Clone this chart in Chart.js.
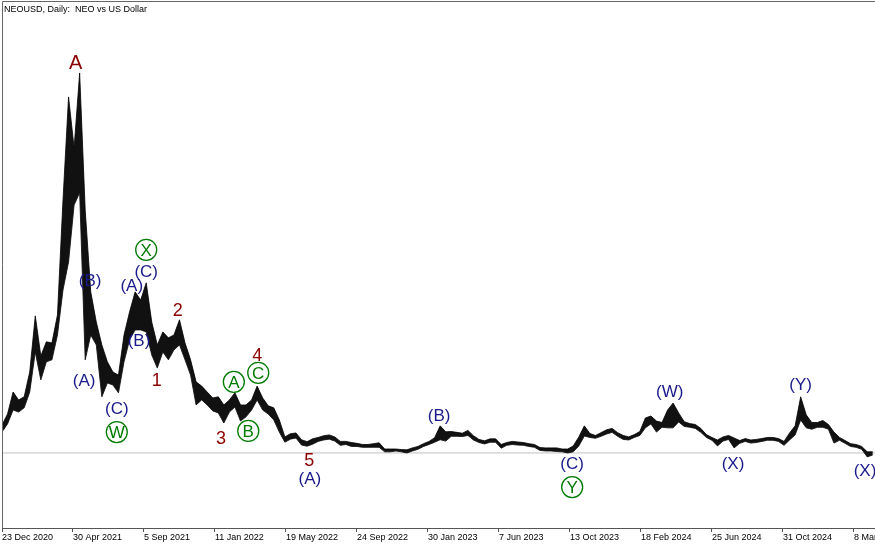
<!DOCTYPE html>
<html>
<head>
<meta charset="utf-8">
<title>NEOUSD Daily</title>
<script src="https://cdn.jsdelivr.net/npm/chart.js@4.4.1/dist/chart.umd.min.js"></script>
<style>
  html, body { margin: 0; padding: 0; background: #fff; }
  #wrap { width: 875px; height: 545px; position: relative; }
</style>
</head>
<body>
<div id="wrap"><canvas id="neoChart"></canvas></div>
<script>
// NEO vs US Dollar, daily chart.
// One high/low pair every 10 days, starting 23 Dec 2020.
const STEP_DAYS = 10;
const titleText = 'NEOUSD, Daily:  NEO vs US Dollar';

const highs = [
  16.2, 20.1, 27.9, 25.1, 26.2, 35.0, 54.9, 40.7, 45.7, 45.3,
  55.2, 96.0, 132.5, 114.4, 141.0, 92.4, 63.4, 52.7, 44.6, 38.6,
  35.0, 33.9, 48.1, 56.3, 63.4, 60.5, 66.6, 52.7, 44.6, 49.2,
  47.1, 48.1, 53.5, 45.3, 39.3, 31.5, 30.0, 27.9, 25.8, 26.2,
  23.3, 25.1, 27.6, 23.3, 23.3, 25.1, 30.0, 25.8, 23.0, 22.3,
  18.0, 12.0, 13.1, 13.4, 11.0, 10.3, 11.3, 11.8, 12.4, 12.7,
  12.0, 10.4, 10.4, 10.0, 9.7, 9.3, 9.3, 9.6, 9.9, 7.7,
  7.7, 7.7, 7.5, 7.4, 8.1, 8.6, 9.6, 10.4, 11.7, 15.9,
  13.8, 13.9, 13.6, 13.3, 14.3, 12.4, 11.1, 10.6, 11.3, 11.3,
  9.3, 10.0, 10.4, 10.2, 10.0, 9.6, 9.3, 8.2, 8.1, 8.1,
  8.1, 7.7, 7.7, 8.8, 12.0, 15.9, 13.2, 12.5, 13.5, 14.5,
  15.0, 13.5, 12.5, 12.0, 12.8, 13.9, 18.7, 19.4, 17.6, 17.1,
  21.5, 24.0, 20.5, 17.4, 16.7, 16.4, 15.0, 12.8, 11.8, 10.9,
  12.0, 12.5, 11.6, 10.7, 11.4, 10.9, 11.1, 11.4, 11.8, 11.8,
  11.4, 10.4, 13.4, 15.9, 26.2, 19.8, 17.1, 17.1, 17.8, 16.4,
  13.7, 11.8, 10.7, 9.6, 9.3, 8.6, 6.7, 6.7
];

const lows = [
  13.7, 16.6, 21.5, 20.8, 22.3, 27.9, 42.1, 32.2, 38.6, 39.3,
  48.1, 64.1, 74.0, 94.2, 98.5, 39.3, 48.1, 44.6, 26.2, 31.1,
  30.4, 27.6, 38.6, 46.4, 49.9, 49.9, 49.2, 41.0, 36.4, 42.1,
  39.3, 42.8, 44.6, 39.3, 33.9, 23.3, 25.1, 23.3, 21.2, 20.5,
  16.9, 20.8, 22.6, 17.6, 19.1, 21.5, 25.1, 21.5, 20.1, 18.0,
  13.7, 10.1, 11.2, 11.6, 9.1, 8.7, 9.4, 10.4, 10.9, 11.2,
  10.5, 9.0, 9.3, 8.6, 8.6, 8.3, 8.3, 8.3, 8.3, 6.7,
  6.7, 7.0, 6.7, 6.3, 7.0, 7.6, 8.6, 9.3, 10.1, 11.0,
  10.5, 12.2, 12.2, 12.1, 12.5, 10.9, 10.0, 9.5, 10.1, 10.1,
  8.0, 9.0, 9.3, 9.1, 9.0, 8.6, 8.3, 7.2, 7.0, 7.0,
  6.8, 6.7, 6.3, 6.7, 8.8, 12.3, 11.8, 11.5, 12.2, 13.0,
  13.6, 12.2, 11.1, 10.9, 11.8, 12.5, 15.2, 16.6, 13.7, 15.4,
  15.2, 15.2, 17.3, 15.7, 15.4, 15.0, 13.6, 11.8, 10.8, 8.8,
  10.5, 11.1, 8.1, 9.7, 10.4, 9.8, 10.0, 10.4, 10.8, 10.8,
  10.4, 9.0, 10.9, 12.7, 18.0, 15.2, 14.7, 15.4, 15.4, 14.7,
  9.8, 10.8, 9.7, 8.6, 8.3, 7.6, 4.9, 5.6
];

// current price line
const lastPrice = 6.3;

// x axis: days since 23 Dec 2020
const tickDays = [0, 128, 256, 384, 512, 640, 768, 896, 1024, 1152, 1280, 1408, 1536];
const tickLabels = [
  '23 Dec 2020', '30 Apr 2021', '5 Sep 2021', '11 Jan 2022', '19 May 2022',
  '24 Sep 2022', '30 Jan 2023', '7 Jun 2023', '13 Oct 2023', '18 Feb 2024',
  '25 Jun 2024', '31 Oct 2024', '8 Mar 2025'
];

// Elliott wave labels (day, price)
const waveLabels = [
  { text: 'A', day: 133, price: 144.6, kind: 'cycle' },
  { text: '(B)', day: 159, price: 67.6, kind: 'inter' },
  { text: '(A)', day: 148, price: 32.2, kind: 'inter' },
  { text: '(C)', day: 207, price: 22.3, kind: 'inter' },
  { text: 'W', day: 207, price: 13.7, kind: 'primary' },
  { text: '(A)', day: 234, price: 65.9, kind: 'inter' },
  { text: 'X', day: 260, price: 78.3, kind: 'primary' },
  { text: '(C)', day: 260, price: 70.8, kind: 'inter' },
  { text: '(B)', day: 247, price: 46.4, kind: 'inter' },
  { text: '1', day: 279, price: 32.2, kind: 'minor' },
  { text: '2', day: 317, price: 57.0, kind: 'minor' },
  { text: '3', day: 395, price: 11.6, kind: 'minor' },
  { text: '4', day: 460, price: 41.0, kind: 'minor' },
  { text: 'A', day: 418, price: 31.5, kind: 'primary' },
  { text: 'C', day: 462, price: 34.7, kind: 'primary' },
  { text: 'B', day: 444, price: 14.1, kind: 'primary' },
  { text: '5', day: 554, price: 3.8, kind: 'minor' },
  { text: '(A)', day: 555, price: -2.6, kind: 'inter' },
  { text: '(B)', day: 788, price: 19.8, kind: 'inter' },
  { text: '(C)', day: 1028, price: 2.8, kind: 'inter' },
  { text: 'Y', day: 1028, price: -5.8, kind: 'primary' },
  { text: '(W)', day: 1204, price: 28.3, kind: 'inter' },
  { text: '(X)', day: 1318, price: 2.8, kind: 'inter' },
  { text: '(Y)', day: 1440, price: 30.8, kind: 'inter' },
  { text: '(X)', day: 1556, price: 0.3, kind: 'inter' }
];

const labelStyles = {
  cycle:   { color: '#8b0000', size: 20 },
  minor:   { color: '#8b0000', size: 18 },
  inter:   { color: '#1a1a8c', size: 17 },
  primary: { color: '#007a00', size: 17, circle: true }
};

const FONT = '"Liberation Sans", Arial, sans-serif';

// Function to draw the wave labels on top of the price
const waveLabelPlugin = {
  id: 'waveLabels',
  afterDatasetsDraw(chart) {
    const { ctx, scales: { x, y } } = chart;
    ctx.save();
    ctx.textAlign = 'center';
    ctx.textBaseline = 'middle';
    waveLabels.forEach(l => {
      const st = labelStyles[l.kind];
      const px = x.getPixelForValue(l.day);
      const py = y.getPixelForValue(l.price);
      if (st.circle) {
        ctx.beginPath();
        ctx.arc(px, py, 10.5, 0, Math.PI * 2);
        ctx.strokeStyle = st.color;
        ctx.lineWidth = 1.3;
        ctx.stroke();
      }
      ctx.font = st.size + 'px ' + FONT;
      ctx.fillStyle = st.color;
      ctx.fillText(l.text, px, py + 1);
    });
    ctx.restore();
  }
};

// Function to draw the window frame and the caption
const framePlugin = {
  id: 'frame',
  afterDraw(chart) {
    const { ctx, chartArea: a } = chart;
    ctx.save();
    ctx.strokeStyle = '#666';
    ctx.lineWidth = 1;
    ctx.beginPath();
    ctx.moveTo(a.left + 0.5, a.bottom);
    ctx.lineTo(a.left + 0.5, a.top + 0.5);
    ctx.lineTo(a.right, a.top + 0.5);
    ctx.stroke();
    ctx.fillStyle = '#000';
    ctx.font = '9px ' + FONT;
    ctx.textAlign = 'left';
    ctx.textBaseline = 'top';
    ctx.fillText(titleText, a.left + 2, 5);
    ctx.restore();
  }
};

const toPoints = arr => arr.map((v, i) => ({ x: i * STEP_DAYS, y: v }));

const ctx = document.getElementById('neoChart').getContext('2d');
window.neoChart = new Chart(ctx, {
  type: 'line',
  data: {
    datasets: [{
      label: 'High',
      data: toPoints(highs),
      borderColor: '#000',
      backgroundColor: '#111',
      borderWidth: 0.8,
      pointRadius: 0,
      tension: 0,
      fill: '+1'
    }, {
      label: 'Low',
      data: toPoints(lows),
      borderColor: '#000',
      borderWidth: 0.8,
      pointRadius: 0,
      tension: 0,
      fill: false
    }, {
      label: 'Last price',
      data: [{ x: 0, y: lastPrice }, { x: 1574, y: lastPrice }],
      borderColor: '#c0c0c0',
      borderWidth: 1,
      pointRadius: 0,
      fill: false
    }]
  },
  options: {
    responsive: true,
    maintainAspectRatio: false,
    animation: false,
    layout: { padding: { left: 2, top: 1, right: 0, bottom: 0 } },
    plugins: {
      legend: { display: false },
      tooltip: { enabled: false }
    },
    scales: {
      x: {
        type: 'linear',
        min: 0,
        max: 1574,
        afterBuildTicks: axis => {
          axis.ticks = tickDays.map(v => ({ value: v }));
        },
        afterFit: axis => {
          axis.paddingLeft = 0;
          axis.paddingRight = 0;
          axis.height = 17;
        },
        ticks: {
          autoSkip: false,
          maxRotation: 0,
          minRotation: 0,
          align: 'start',
          padding: 0,
          color: '#000',
          font: { size: 9, family: FONT },
          callback: (value, index) => tickLabels[index]
        },
        grid: {
          drawOnChartArea: false,
          drawTicks: true,
          tickLength: 4,
          color: '#555'
        },
        border: { color: '#555', width: 1 }
      },
      y: {
        type: 'linear',
        display: false,
        min: -20.3,
        max: 166.5
      }
    }
  },
  plugins: [waveLabelPlugin, framePlugin]
});
</script>
</body>
</html>
